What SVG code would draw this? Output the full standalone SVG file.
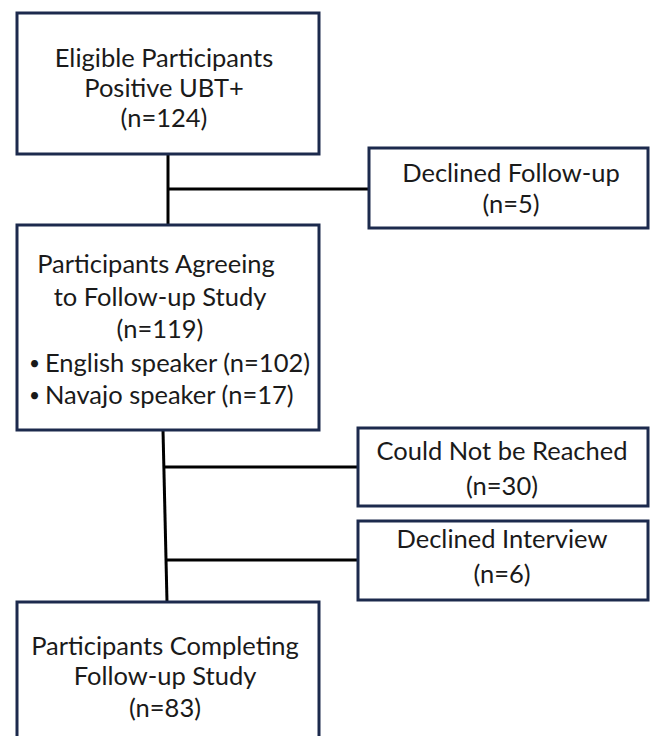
<svg xmlns="http://www.w3.org/2000/svg" width="652" height="736" viewBox="0 0 652 736">
<style>
.box{fill:#fff;stroke:#1c2a4d;stroke-width:3}
.t{font-family:Lato,"Open Sans","Liberation Sans",sans-serif;font-size:25.5px;fill:#1a1a1a;text-anchor:middle}
.l{text-anchor:start}
.b{font-size:19px}
.c{stroke:#000;stroke-width:3;fill:none}
</style>
<rect width="652" height="736" fill="#fff"/>
<g id="connectors">
<line class="c" x1="168" y1="154" x2="168" y2="225"/>
<line class="c" x1="168" y1="189" x2="369" y2="189"/>
<line class="c" x1="163" y1="430" x2="167" y2="602"/>
<line class="c" x1="164" y1="467" x2="358" y2="467"/>
<line class="c" x1="166" y1="560" x2="358" y2="560"/>
</g>
<g id="eligible">
<rect class="box" x="17" y="13" width="302" height="141"/>
<text class="t" x="164" y="67">Eligible Participants</text>
<text class="t" x="164" y="97">Positive UBT+</text>
<text class="t" x="164" y="127">(n=124)</text>
</g>
<g id="declined-followup">
<rect class="box" x="369" y="148" width="279" height="80"/>
<text class="t" x="511" y="182">Declined Follow-up</text>
<text class="t" x="511" y="213">(n=5)</text>
</g>
<g id="agreeing">
<rect class="box" x="17" y="225" width="302" height="205"/>
<text class="t" x="156" y="273">Participants Agreeing</text>
<text class="t" x="160" y="306">to Follow-up Study</text>
<text class="t" x="160" y="338">(n=119)</text>
<text class="t l" y="370"><tspan class="b" x="29">•</tspan><tspan x="45" y="372">English speaker (n=102)</tspan></text>
<text class="t l" y="402"><tspan class="b" x="29">•</tspan><tspan x="45" y="404">Navajo speaker (n=17)</tspan></text>
</g>
<g id="not-reached">
<rect class="box" x="358" y="428" width="290" height="78"/>
<text class="t" x="502" y="460">Could Not be Reached</text>
<text class="t" x="502" y="495">(n=30)</text>
</g>
<g id="declined-interview">
<rect class="box" x="358" y="521" width="290" height="79"/>
<text class="t" x="502" y="548">Declined Interview</text>
<text class="t" x="502" y="583">(n=6)</text>
</g>
<g id="completing">
<rect class="box" x="17" y="602" width="302" height="140"/>
<text class="t" x="165" y="655">Participants Completing</text>
<text class="t" x="165" y="685">Follow-up Study</text>
<text class="t" x="165" y="717">(n=83)</text>
</g>
</svg>
